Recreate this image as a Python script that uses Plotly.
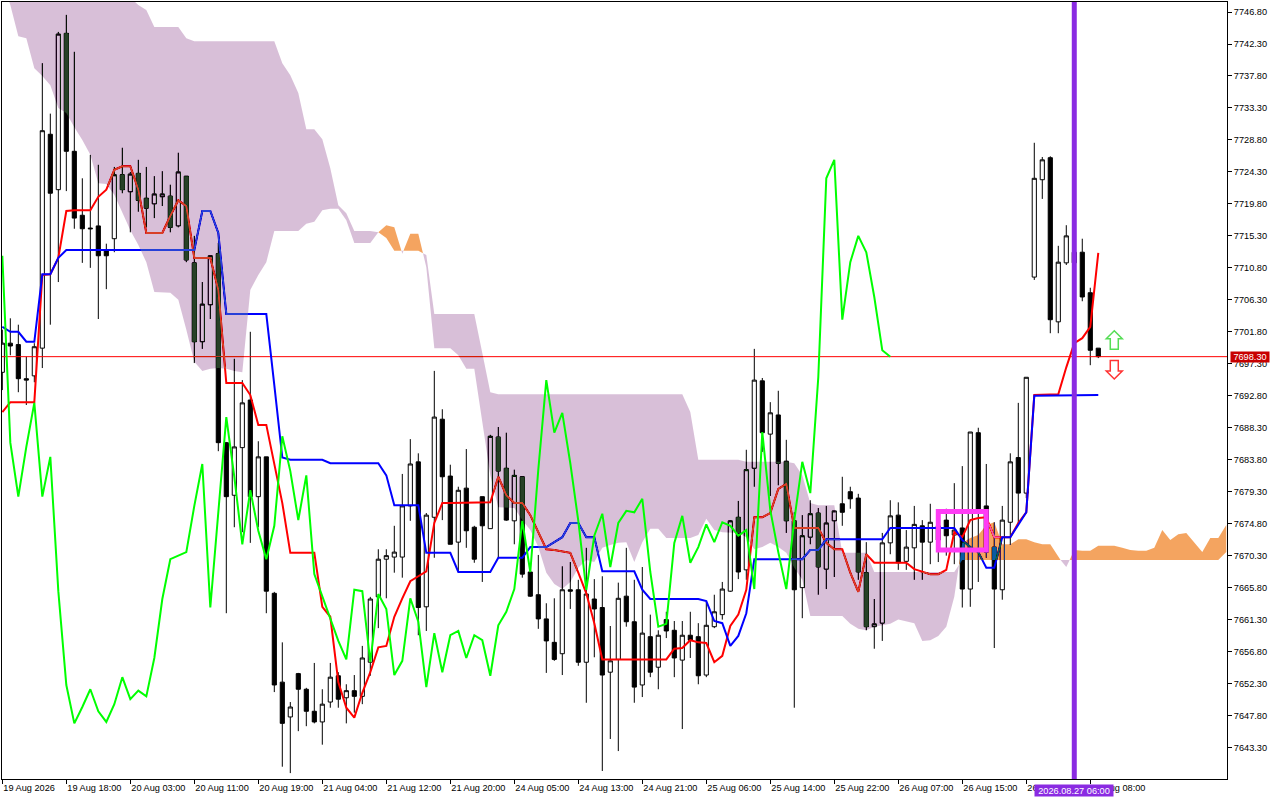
import plotly.graph_objects as go

open_ = [7696.1,7700.2,7700.0,7695.2,7695.6,7699.5,7729.6,7721.8,7743.8,7727.2,
7718.2,7716.4,7716.7,7713.2,7714.9,7723.9,7721.5,7724.1,7720.6,7719.8,
7720.8,7720.9,7716.7,7723.7,7711.5,7700.4,7705.6,7712.8,7686.2,7678.8,
7685.5,7692.2,7678.6,7684.2,7665.0,7652.5,7647.6,7653.7,7651.5,7648.4,
7646.9,7649.7,7653.4,7650.3,7651.3,7650.5,7655.3,7664.5,7669.8,7670.1,
7670.1,7677.3,7683.5,7663.1,7675.7,7689.5,7681.5,7672.2,7679.8,7674.3,
7678.6,7674.1,7687.0,7682.6,7675.2,7681.4,7668.0,7664.8,7661.4,7658.1,
7656.5,7665.5,7665.5,7655.3,7664.2,7663.0,7653.9,7655.7,7664.6,7661.0,
7652.1,7658.9,7654.6,7661.3,7659.8,7655.6,7659.1,7658.9,7653.5,7660.3,
7662.0,7665.3,7675.7,7668.3,7682.6,7694.9,7687.4,7690.1,7683.6,7675.2,
7665.8,7672.9,7676.3,7668.4,7675.2,7677.6,7679.3,7678.4,7667.9,7660.3,
7660.8,7672.1,7676.0,7669.5,7671.4,7674.5,7672.2,7672.5,7675.3,7673.2,
7674.2,7665.6,7687.6,7677.3,7671.5,7665.5,7675.0,7684.1,7679.1,7709.5,
7723.2,7726.3,7703.2,7711.5,7711.5,7713.0,7707.3,7699.5]
high = [7702.1,7703.7,7702.8,7698.3,7700.2,7739.6,7732.5,7744.0,7746.4,7741.2,
7723.4,7726.7,7725.3,7714.2,7725.0,7727.7,7724.3,7726.0,7725.0,7723.7,
7724.4,7722.5,7727.0,7723.7,7715.3,7708.8,7712.5,7714.3,7686.3,7698.0,
7695.0,7701.8,7686.4,7684.2,7665.2,7658.1,7649.7,7653.8,7651.7,7655.2,
7651.5,7655.2,7653.9,7652.2,7653.5,7657.6,7664.5,7671.2,7671.2,7674.5,
7681.8,7686.7,7684.7,7676.3,7696.3,7690.9,7683.1,7680.0,7685.3,7674.5,
7678.6,7687.3,7688.4,7687.6,7682.4,7681.4,7669.0,7670.4,7663.6,7664.3,
7668.8,7669.4,7666.9,7671.4,7667.0,7667.4,7660.4,7666.5,7671.4,7666.9,
7668.7,7662.0,7659.8,7662.4,7661.1,7661.1,7662.4,7660.8,7663.8,7664.8,
7666.6,7675.3,7678.0,7685.2,7699.4,7695.3,7691.9,7693.5,7686.6,7676.4,
7676.0,7678.1,7677.0,7677.3,7676.6,7681.4,7680.0,7679.0,7672.2,7664.2,
7673.5,7678.1,7677.8,7673.9,7677.3,7675.3,7677.6,7675.7,7676.9,7680.5,
7682.9,7687.7,7688.3,7683.2,7675.0,7677.3,7684.7,7691.8,7695.4,7728.4,
7726.4,7726.5,7713.9,7716.8,7714.7,7714.9,7708.0,7699.5]
low = [7693.6,7698.5,7693.3,7691.5,7694.7,7696.7,7702.8,7708.8,7721.6,7716.3,
7711.5,7710.8,7703.6,7707.8,7713.0,7721.3,7715.8,7718.7,7716.5,7717.8,
7719.5,7715.8,7716.5,7711.6,7697.4,7699.4,7703.6,7685.0,7662.2,7674.3,
7673.6,7672.1,7674.3,7662.2,7651.1,7640.6,7639.7,7645.6,7646.3,7646.7,
7643.7,7648.9,7648.9,7646.7,7648.2,7649.4,7653.4,7660.1,7664.3,7667.9,
7667.2,7675.2,7659.1,7659.7,7670.0,7675.3,7671.9,7668.0,7671.4,7669.3,
7666.6,7674.1,7670.0,7675.2,7671.9,7667.2,7664.5,7660.0,7653.8,7655.5,
7653.5,7662.8,7654.8,7649.6,7656.0,7640.0,7644.5,7642.8,7660.3,7649.6,
7650.4,7653.2,7651.5,7658.7,7653.2,7645.9,7655.9,7652.2,7653.2,7660.1,
7661.3,7665.2,7667.0,7666.9,7680.0,7684.9,7678.7,7680.2,7673.5,7648.9,
7661.5,7671.9,7664.8,7665.6,7667.3,7674.5,7676.9,7666.9,7659.8,7657.2,
7658.3,7670.5,7668.3,7668.3,7666.9,7666.9,7669.1,7669.4,7670.3,7669.1,
7663.0,7663.1,7666.6,7670.0,7657.3,7664.1,7671.8,7674.6,7678.4,7709.1,
7720.5,7701.6,7701.6,7711.2,7710.5,7706.1,7697.1,7698.1]
close = [7700.2,7699.8,7695.2,7695.0,7699.7,7730.1,7721.3,7743.7,7727.2,7717.8,
7716.3,7716.3,7712.5,7712.5,7723.9,7721.8,7724.0,7720.3,7719.2,7721.2,
7721.2,7716.5,7724.3,7711.9,7700.4,7705.7,7712.5,7686.2,7678.6,7685.6,
7691.8,7678.6,7684.2,7665.3,7652.1,7646.7,7649.0,7651.5,7648.4,7646.9,
7649.4,7653.2,7650.1,7651.3,7650.5,7655.9,7664.2,7669.8,7670.3,7670.8,
7677.3,7683.2,7663.0,7676.0,7689.8,7681.4,7671.9,7679.5,7673.8,7669.8,
7674.5,7687.1,7682.2,7675.3,7681.6,7667.7,7664.6,7661.4,7658.3,7655.7,
7665.5,7665.3,7655.3,7664.9,7662.8,7653.5,7655.5,7664.3,7661.0,7651.8,
7659.4,7653.9,7659.1,7659.7,7655.9,7659.1,7658.4,7653.4,7660.5,7662.4,
7665.6,7675.2,7668.0,7682.4,7695.0,7687.6,7690.4,7683.3,7675.2,7665.5,
7673.1,7676.2,7668.7,7674.9,7676.6,7676.4,7678.3,7668.0,7660.3,7660.7,
7672.1,7675.9,7669.3,7671.5,7674.7,7672.2,7675.0,7674.5,7673.1,7673.9,
7665.6,7687.7,7676.7,7670.8,7665.6,7675.3,7683.5,7679.1,7695.4,7723.4,
7726.0,7703.5,7711.6,7715.3,7713.0,7706.7,7699.2,7698.3]

tenkan = [7690.5,7691.9,7691.9,7691.9,7691.9,7709.8,7709.9,7712.2,7718.8,7718.9,
7718.9,7718.9,7720.8,7721.8,7724.6,7725.1,7725.1,7721.8,7715.7,7715.7,
7715.7,7718.1,7720.3,7719.5,7712.2,7712.2,7712.2,7707.7,7694.6,7694.6,
7694.6,7692.9,7688.7,7688.7,7683.3,7677.7,7670.7,7670.7,7670.7,7670.7,
7663.1,7661.7,7652.5,7648.9,7647.5,7651.0,7653.9,7657.4,7657.6,7661.7,
7664.3,7666.7,7667.4,7668.1,7674.9,7677.7,7677.7,7677.7,7677.7,7677.7,
7677.7,7677.8,7681.4,7678.8,7677.7,7677.7,7676.0,7673.5,7671.2,7671.1,
7670.9,7670.7,7667.9,7665.0,7660.8,7655.7,7655.7,7655.7,7655.7,7655.7,
7655.7,7655.7,7655.7,7655.7,7657.2,7657.3,7658.4,7658.1,7658.0,7655.3,
7656.2,7660.4,7662.0,7665.5,7675.7,7675.7,7676.3,7679.7,7680.4,7674.2,
7674.2,7674.2,7674.2,7672.1,7671.2,7671.2,7667.9,7665.2,7670.5,7669.3,
7669.3,7669.3,7669.3,7669.3,7668.4,7668.1,7667.7,7667.7,7668.3,7673.6,
7672.9,7675.3,7675.6,7675.7,7672.9,7672.9,7672.9,7674.9,7676.4,7692.9,
7692.9,7692.9,7693.0,7696.8,7700.2,7700.9,7702.5,7712.9]
kijun = [7702.5,7701.8,7701.8,7700.4,7700.4,7709.9,7709.9,7712.2,7713.3,7713.3,
7713.3,7713.3,7713.3,7713.3,7713.3,7713.3,7713.3,7713.3,7713.3,7713.3,
7713.3,7713.3,7713.3,7713.3,7713.3,7718.8,7718.8,7715.7,7704.3,7704.3,
7704.3,7704.3,7704.3,7704.3,7694.3,7684.1,7683.8,7683.8,7683.8,7683.8,
7683.8,7683.3,7683.3,7683.3,7683.3,7683.3,7683.3,7683.3,7681.6,7677.4,
7677.4,7677.4,7677.4,7670.7,7670.7,7670.7,7670.7,7668.0,7668.0,7668.0,
7668.0,7668.0,7670.0,7670.0,7670.0,7670.0,7671.5,7671.5,7671.5,7672.2,
7672.9,7674.9,7674.9,7672.9,7672.9,7668.1,7668.1,7668.1,7668.1,7668.1,
7665.5,7664.2,7664.2,7664.2,7664.2,7664.2,7664.2,7664.2,7663.9,7661.1,
7660.8,7657.6,7659.0,7662.2,7669.8,7669.8,7669.8,7669.8,7669.8,7669.8,
7669.8,7671.1,7671.1,7672.6,7672.6,7672.6,7672.6,7672.6,7672.6,7672.6,
7672.6,7674.2,7674.2,7674.2,7674.2,7674.2,7674.2,7674.2,7674.2,7674.2,
7672.5,7671.5,7670.8,7668.6,7668.6,7672.9,7672.9,7674.6,7676.4,7692.8,
7692.8,7692.8,7692.8,7692.8,7692.8,7692.8,7692.9,7692.9]
chikou = close[26:]

senkou_a = [7751.3,7747.8,7743.4,7743.1,7738.9,7737.8,7736.5,7733.3,7732.6,7730.6,
7728.8,7726.7,7722.7,7722.6,7721.1,7718.5,7716.1,7714.0,7711.6,7707.4,
7707.4,7707.3,7706.3,7702.1,7697.6,7696.3,7696.6,7696.7,7696.6,7696.3,
7696.1,7707.7,7709.8,7711.6,7716.0,7716.0,7716.0,7716.0,7717.0,7717.3,
7718.9,7719.1,7719.1,7717.5,7714.3,7714.3,7714.3,7715.8,7716.8,7716.5,
7712.8,7715.6,7715.6,7710.9,7699.5,7699.5,7699.5,7698.5,7696.6,7696.6,
7689.4,7681.6,7677.1,7677.0,7677.0,7675.3,7673.9,7671.5,7667.9,7666.3,
7665.6,7666.6,7668.6,7669.7,7669.4,7671.4,7671.8,7672.1,7672.2,7669.4,
7672.2,7674.1,7674.1,7672.8,7672.8,7672.8,7672.8,7673.2,7675.5,7673.9,
7673.6,7673.6,7673.5,7672.9,7671.2,7671.5,7672.1,7671.5,7670.7,7668.6,
7666.9,7661.8,7661.8,7661.8,7661.8,7661.8,7660.7,7660.0,7659.8,7660.3,
7660.5,7660.7,7661.3,7661.0,7660.8,7658.3,7658.4,7659.0,7660.3,7664.5,
7672.1,7672.8,7673.2,7674.6,7675.0,7671.9,7671.9,7672.6,7672.6,7672.2,
7671.9,7671.9,7670.1,7668.7,7671.1,7671.0,7671.0,7671.7,7671.7,7671.7,
7671.4,7671.1,7671.0,7671.0,7671.4,7673.9,7672.5,7673.3,7673.5,7672.1,
7670.8,7672.8,7672.8,7674.6]
senkou_b = [7752.7,7752.7,7752.7,7752.7,7752.7,7752.7,7752.7,7752.7,7752.7,7752.7,
7752.7,7752.7,7752.7,7752.7,7752.7,7752.7,7748.8,7747.8,7747.1,7744.7,
7744.7,7744.7,7744.7,7743.1,7742.7,7742.7,7742.7,7742.7,7742.7,7742.7,
7742.7,7742.7,7742.7,7742.7,7742.7,7739.6,7737.9,7735.4,7730.3,7730.3,
7728.9,7724.8,7719.6,7718.5,7716.0,7716.0,7716.0,7715.8,7715.0,7713.2,
7713.2,7713.2,7713.2,7712.6,7704.3,7704.3,7704.3,7704.3,7704.3,7704.3,
7698.8,7693.3,7693.0,7693.0,7693.0,7693.0,7693.0,7693.0,7693.0,7693.0,
7693.0,7693.0,7693.0,7693.0,7693.0,7693.0,7693.0,7693.0,7693.0,7693.0,
7693.0,7693.0,7693.0,7693.0,7693.0,7693.0,7690.5,7683.8,7683.8,7683.8,
7683.8,7683.8,7683.8,7683.5,7683.5,7683.5,7683.5,7683.5,7683.5,7683.3,
7681.6,7677.7,7677.4,7677.4,7677.4,7670.7,7670.7,7670.7,7670.7,7668.0,
7668.0,7668.0,7668.0,7668.0,7668.0,7668.0,7668.0,7668.0,7668.0,7668.0,
7669.7,7669.7,7669.7,7669.7,7669.7,7669.7,7669.7,7669.7,7669.7,7669.7,
7669.7,7669.7,7669.7,7669.7,7669.7,7669.7,7669.7,7669.7,7669.7,7669.7,
7669.7,7669.7,7669.7,7669.7,7669.7,7669.7,7669.7,7669.7,7669.7,7669.7,
7669.7,7669.7,7669.7,7670.8]

time_tick_bars = [0,8,16,24,32,40,48,56,64,72,80,88,96,104,112,120,128,136]
time_tick_text = ["19 Aug 2026","19 Aug 18:00","20 Aug 03:00","20 Aug 11:00","20 Aug 19:00",
"21 Aug 04:00","21 Aug 12:00","21 Aug 20:00","24 Aug 05:00","24 Aug 13:00","24 Aug 21:00",
"25 Aug 06:00","25 Aug 14:00","25 Aug 22:00","26 Aug 07:00","26 Aug 15:00","26 Aug 23:00","27 Aug 08:00"]
price_ticks = [7643.3,7647.8,7652.3,7656.8,7661.3,7665.8,7670.3,7674.8,7679.3,7683.8,7688.3,7692.8,
7697.3,7701.8,7706.3,7710.8,7715.3,7719.8,7724.3,7728.8,7733.3,7737.8,7742.3,7746.8]
last_price = 7698.3
cursor_bar = 134
cursor_label = "2026.08.27 06:00"
box_bars = [117, 123]
box_prices = [7671.1, 7676.5]
signal_bar = 139
signal_up_price = 7700.6
signal_down_price = 7696.5
x_range = [-0.04, 153.09]

AXIS_FONT = dict(family="Liberation Sans", size=9.2, color="black")
bars = list(range(len(close)))

fig = go.Figure()
fig.add_trace(go.Candlestick(
    x=bars, open=open_, high=high, low=low, close=close,
    increasing=dict(line=dict(color="black", width=1), fillcolor="white"),
    decreasing=dict(line=dict(color="black", width=1), fillcolor="black"),
    whiskerwidth=0, hoverinfo="skip", showlegend=False))
fig.add_trace(go.Scatter(x=x_range, y=[last_price, last_price], mode="lines", line=dict(color="#FF0000", width=1), hoverinfo="skip", showlegend=False))
fig.add_trace(go.Scatter(x=bars, y=tenkan, mode="lines", line=dict(color="#FF0000", width=2), hoverinfo="skip", showlegend=False))
fig.add_trace(go.Scatter(x=bars, y=kijun, mode="lines", line=dict(color="#0000FF", width=2), hoverinfo="skip", showlegend=False))


def add_cloud(xs, top, bottom, diff_color):
    fig.add_trace(go.Scatter(
        x=xs + xs[::-1], y=top + bottom[::-1], mode="lines", fill="toself",
        fillcolor=diff_color, line=dict(width=0), hoverinfo="skip", showlegend=False))


# The cloud colour is xor-like over what is below it: a "difference" blend of the complement.
THISTLE_DIFF = "#274027"
SANDY_DIFF = "#0B5B9F"
seg_x, seg_a, seg_b = [], [], []
sign = 0


def flush():
    global seg_x, seg_a, seg_b
    if len(seg_x) > 1:
        if sign > 0:
            add_cloud(seg_x, seg_a, seg_b, SANDY_DIFF)
        else:
            add_cloud(seg_x, seg_b, seg_a, THISTLE_DIFF)
    seg_x, seg_a, seg_b = [], [], []


for k, (a, b) in enumerate(zip(senkou_a, senkou_b)):
    s = (a > b) - (a < b)
    if s and sign and s != sign:
        pa, pb = senkou_a[k - 1], senkou_b[k - 1]
        t = (pb - pa) / ((a - pa) - (b - pb))
        cx, cy = k - 1 + t, pa + t * (a - pa)
        seg_x.append(cx); seg_a.append(cy); seg_b.append(cy)
        flush()
        seg_x.append(cx); seg_a.append(cy); seg_b.append(cy)
    if s:
        sign = s
    seg_x.append(k); seg_a.append(a); seg_b.append(b)
flush()

fig.add_trace(go.Scatter(x=bars[:len(chikou)], y=chikou, mode="lines", line=dict(color="#00FF00", width=2), hoverinfo="skip", showlegend=False))

fig.add_shape(type="line", xref="x", x0=cursor_bar, x1=cursor_bar, yref="paper", y0=0, y1=1,
              line=dict(color="#8A2BE2", width=5), layer="above")
fig.add_shape(type="rect", xref="x", x0=box_bars[0], x1=box_bars[1], yref="y", y0=box_prices[0], y1=box_prices[1],
              line=dict(color="#FF3CF5", width=5), fillcolor="rgba(0,0,0,0)", layer="above")
fig.add_shape(type="path", xref="x", yref="y", xsizemode="pixel", ysizemode="pixel",
              xanchor=signal_bar, yanchor=signal_up_price,
              path="M 0 9.5 L 8 1.5 L 4 1.5 L 4 -9 L -4 -9 L -4 1.5 L -8 1.5 Z",
              line=dict(color="#55DD55", width=1.5), fillcolor="white", layer="above")
fig.add_shape(type="path", xref="x", yref="y", xsizemode="pixel", ysizemode="pixel",
              xanchor=signal_bar, yanchor=signal_down_price,
              path="M 0 -9.5 L 8 -1.5 L 4 -1.5 L 4 9 L -4 9 L -4 -1.5 L -8 -1.5 Z",
              line=dict(color="#FF3333", width=1.5), fillcolor="white", layer="above")

fig.add_annotation(xref="paper", x=1, xanchor="left", xshift=3, yref="y", y=last_price, yanchor="middle",
                   text=f"{last_price:.2f}", showarrow=False, bgcolor="#C80000", width=38, height=10, borderpad=0,
                   font=dict(family="Liberation Sans", size=9.2, color="white"))
fig.add_annotation(xref="x", x=cursor_bar, xanchor="center", yref="paper", y=0, yanchor="top", yshift=-5,
                   text=cursor_label, showarrow=False, bgcolor="#8A2BE2", width=78, height=11, borderpad=0,
                   font=dict(family="Liberation Sans", size=9.2, color="white"))

fig.update_layout(
    width=1280, height=800, margin=dict(l=2, r=53, t=2, b=21, pad=0),
    paper_bgcolor="white", plot_bgcolor="white", showlegend=False, hovermode=False, boxgap=0.26,
    xaxis=dict(range=x_range, tickmode="array", tickvals=time_tick_bars, ticktext=time_tick_text,
               ticks="outside", ticklen=4, tickcolor="black", tickwidth=1, ticklabelposition="outside right",
               tickfont=AXIS_FONT, showgrid=False, zeroline=False, showline=True, linecolor="black", linewidth=1,
               mirror=True, rangeslider=dict(visible=False), tickangle=0),
    yaxis=dict(range=[7638.87, 7748.21], side="right", tickmode="array", tickvals=price_ticks,
               ticktext=[f"{p:.2f}" for p in price_ticks], ticks="outside", ticklen=4, tickcolor="black", tickwidth=1,
               tickfont=AXIS_FONT, showgrid=False, zeroline=False, showline=True, linecolor="black", linewidth=1,
               mirror=True),
)

POST = """
document.body.style.margin='0';
document.body.style.overflow='hidden';
var plot=document.querySelector('.overplot .xy');
if(plot){var r=document.createElementNS('http://www.w3.org/2000/svg','rect');
r.setAttribute('x','-50');r.setAttribute('y','-50');r.setAttribute('width','2000');r.setAttribute('height','2000');
r.setAttribute('fill','white');plot.insertBefore(r,plot.firstChild);}
document.querySelectorAll('path.js-fill').forEach(function(p){p.style.mixBlendMode='difference';});
"""
fig.write_html("out.html", config=dict(displayModeBar=False), post_script=POST)
